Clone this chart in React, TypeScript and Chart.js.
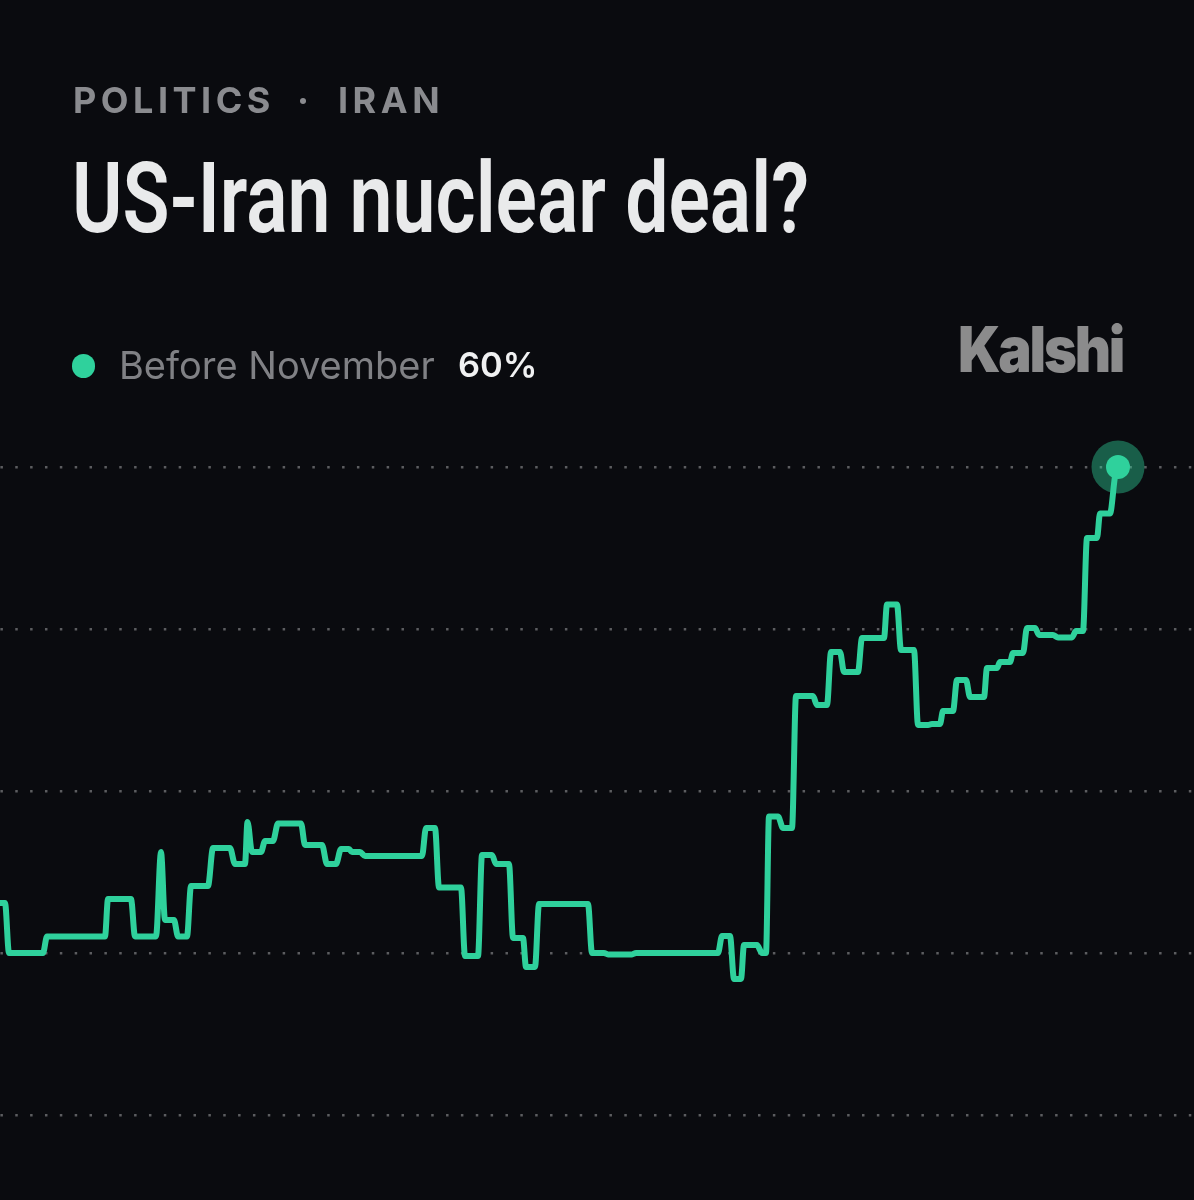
import React, { useEffect, useRef } from "react";
import { Chart, registerables } from "chart.js";

Chart.register(...registerables);

const eyebrowParts = ["POLITICS", "·", "IRAN"];
const titleText = "US-Iran nuclear deal?";
const seriesName = "Before November";
const latestLabel = "60%";
const brand = "Kalshi";

const gridTicks = [20, 30, 40, 50, 60];

const hours = [
  0, 5, 9, 43, 47, 105, 108, 131, 135, 156, 161, 165, 174, 178, 187, 191, 208, 213, 230, 235,
  245, 247.5, 252, 261, 265, 273, 278, 301, 305, 322, 327, 336, 341, 349, 352, 360, 365, 422, 426, 435,
  439, 461, 465, 478, 482, 492, 496, 509, 513, 523, 526, 535, 539, 588, 592, 604, 608, 632, 636, 718,
  722, 730, 734, 741, 744, 757, 762, 766, 769, 778, 783, 792, 796, 813, 817, 827, 831, 840, 844, 858,
  862, 884, 887, 897, 901, 914, 918, 928, 932, 940, 943, 953, 957, 966, 970, 984, 987, 997, 1000, 1010,
  1013, 1023, 1027, 1035, 1039, 1053, 1058, 1072, 1076, 1083, 1087, 1097, 1100, 1110, 1115, 1118,
];

const chance = [
  33.09, 33.09, 30, 30, 31.02, 31.02, 33.33, 33.33, 31.02, 31.02, 36.23, 32.04, 32.04, 31.02, 31.02, 34.14, 34.14, 36.48, 36.48, 35.49,
  35.49, 38.09, 36.23, 36.23, 36.91, 36.91, 38, 38, 36.67, 36.67, 35.49, 35.49, 36.42, 36.42, 36.23, 36.23, 35.99, 35.99, 37.72, 37.72,
  34.04, 34.04, 29.81, 29.81, 36.05, 36.05, 35.49, 35.49, 30.93, 30.93, 29.14, 29.14, 33.02, 33.02, 30, 30, 29.91, 29.91, 30, 30,
  31.05, 31.05, 28.4, 28.4, 30.49, 30.49, 30, 30, 38.43, 38.43, 37.72, 37.72, 45.86, 45.86, 45.31, 45.31, 48.58, 48.58, 47.35, 47.35,
  49.44, 49.44, 51.51, 51.51, 48.7, 48.7, 44.07, 44.07, 44.14, 44.14, 44.94, 44.94, 46.85, 46.85, 45.8, 45.8, 47.59, 47.59, 47.96, 47.96,
  48.52, 48.52, 50.06, 50.06, 49.63, 49.63, 49.48, 49.48, 49.88, 49.88, 55.62, 55.62, 57.13, 57.13, 59.4, 60,
];

const BG = "#0a0b0f";
const GREEN = "#2fd19c";

const textBase: React.CSSProperties = {
  position: "absolute",
  whiteSpace: "nowrap",
  transformOrigin: "left center",
  lineHeight: 1,
};

export default function App() {
  const ref = useRef<HTMLCanvasElement | null>(null);

  useEffect(() => {
    if (!ref.current) return;
    const lastX = hours[hours.length - 1];
    const lastY = chance[chance.length - 1];
    const chart = new Chart(ref.current, {
      type: "line",
      data: {
        datasets: [
          {
            label: "halo",
            data: [{ x: lastX, y: lastY }],
            order: 3,
            showLine: false,
            pointRadius: 26.5,
            pointBorderWidth: 0,
            pointBackgroundColor: "rgba(47,209,156,0.42)",
          },
          {
            label: seriesName,
            data: hours.map((h, i) => ({ x: h, y: chance[i] })),
            order: 2,
            borderColor: GREEN,
            borderWidth: 6,
            pointRadius: 0,
            cubicInterpolationMode: "monotone",
            borderJoinStyle: "round",
            borderCapStyle: "round",
            fill: false,
          },
          {
            label: "latest",
            data: [{ x: lastX, y: lastY }],
            order: 1,
            showLine: false,
            pointRadius: 12,
            pointBorderWidth: 0,
            pointBackgroundColor: GREEN,
          },
        ],
      },
      options: {
        animation: false,
        responsive: false,
        devicePixelRatio: 1,
        layout: { autoPadding: false, padding: { top: 420, bottom: 60, left: 0, right: 0 } },
        plugins: { legend: { display: false }, tooltip: { enabled: false } },
        scales: {
          x: { type: "linear", min: 0, max: 1194, display: false },
          y: {
            type: "linear",
            min: 18.457,
            max: 62.901,
            afterBuildTicks: (axis: any) => {
              axis.ticks = gridTicks.map((value) => ({ value }));
            },
            ticks: { display: false },
            border: { display: false, dash: [2.5, 12.355], dashOffset: -0.4 },
            grid: { color: "#5c5d60", lineWidth: 2.5, drawTicks: false },
          },
        },
      },
    });
    return () => chart.destroy();
  }, []);

  return (
    <div style={{ position: "absolute", left: 0, top: 0, width: 1194, height: 1200, background: BG, overflow: "hidden" }}>
      <canvas ref={ref} width={1194} height={1200} style={{ position: "absolute", left: 0, top: 0, display: "block" }} />

      <div style={{ ...textBase, left: 73, top: 78, font: "700 36px Inter", letterSpacing: 4.5, color: "#8a8b8f" }}>{eyebrowParts[0]}</div>
      <div style={{ ...textBase, left: 297, top: 78, font: "700 36px Inter", color: "#8a8b8f" }}>{eyebrowParts[1]}</div>
      <div style={{ ...textBase, left: 338, top: 78, font: "700 36px Inter", letterSpacing: 4.5, color: "#8a8b8f" }}>{eyebrowParts[2]}</div>

      <div style={{ ...textBase, left: 72, top: 141, font: "600 98px Roboto", transform: "scaleX(0.785)", color: "#e9eaeb" }}>{titleText}</div>

      <div style={{ position: "absolute", left: 71.5, top: 354, width: 23.5, height: 23.5, borderRadius: "50%", background: GREEN }} />
      <div style={{ ...textBase, left: 119, top: 342, font: "400 38px Inter", color: "#808185" }}>{seriesName}</div>
      <div style={{ ...textBase, left: 458, top: 344, font: "600 34.5px Inter", color: "#f0f1f2" }}>{latestLabel}</div>

      <div style={{ ...textBase, left: 958, top: 311, font: "900 63px Inter", letterSpacing: -2.5, transform: "scaleX(0.89)", color: "#8b8b8c" }}>{brand}</div>
    </div>
  );
}
